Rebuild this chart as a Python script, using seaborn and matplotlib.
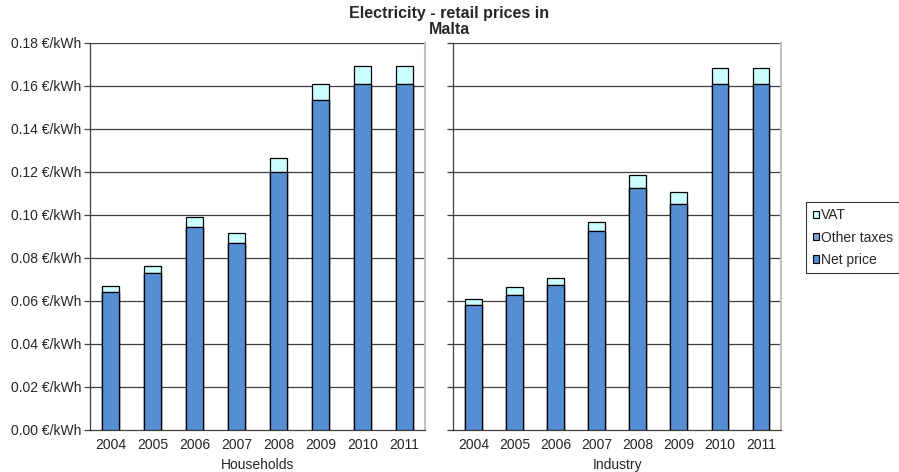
import numpy as np
import pandas as pd
import matplotlib
matplotlib.use("Agg")
import matplotlib.pyplot as plt
import seaborn as sns
from matplotlib.patches import Patch

years = ["2004", "2005", "2006", "2007", "2008", "2009", "2010", "2011"]
hh_net = [0.064, 0.0729, 0.0945, 0.0870, 0.1200, 0.1535, 0.1610, 0.1610]
hh_other = [0, 0, 0, 0, 0, 0, 0, 0]
hh_vat = [0.0030, 0.0034, 0.0045, 0.0046, 0.0065, 0.0072, 0.0084, 0.0084]
ind_net = [0.0580, 0.0628, 0.0673, 0.0924, 0.1125, 0.1051, 0.1607, 0.1607]
ind_other = [0, 0, 0, 0, 0, 0, 0, 0]
ind_vat = [0.0029, 0.0036, 0.0035, 0.0043, 0.0061, 0.0054, 0.0076, 0.0076]
yticks = [0.00, 0.02, 0.04, 0.06, 0.08, 0.10, 0.12, 0.14, 0.16, 0.18]

sns.set_theme(style="white")
plt.rcParams['font.family'] = ['Liberation Sans', 'DejaVu Sans']

C_VAT = "#CCFFFF"
C_OTHER = "#7F9FCF"
C_NET = "#558ED5"

fig = plt.figure(figsize=(8.99, 4.72), dpi=100)
ax1 = fig.add_axes([0.100, 0.089, 0.373, 0.820])
ax2 = fig.add_axes([0.504, 0.089, 0.365, 0.820])

def draw(ax, net, other, vat, label, show_y):
    df = pd.DataFrame({"year": years,
                       "net": net,
                       "other": np.array(net) + np.array(other),
                       "total": np.array(net) + np.array(other) + np.array(vat)})
    ax.set_axisbelow(True)
    for y in yticks[1:]:
        ax.axhline(y, color="#404040", lw=0.9, zorder=0)
    sns.barplot(data=df, x="year", y="total", color=C_VAT, width=0.4,
                edgecolor="black", linewidth=0.9, saturation=1, ax=ax, zorder=2)
    sns.barplot(data=df, x="year", y="other", color=C_OTHER, width=0.4,
                edgecolor="black", linewidth=0.9, saturation=1, ax=ax, zorder=3)
    sns.barplot(data=df, x="year", y="net", color=C_NET, width=0.4,
                edgecolor="black", linewidth=0.9, saturation=1, ax=ax, zorder=4)
    ax.set_ylim(0, 0.18)
    ax.set_xlim(-0.5, 7.5)
    ax.set_yticks(yticks)
    if show_y:
        ax.set_yticklabels([f"{v:.2f} €/kWh" for v in yticks], fontsize=10)
    else:
        ax.set_yticklabels([])
    ax.set_xlabel(label, fontsize=10, labelpad=4)
    ax.set_ylabel("")
    ax.tick_params(axis="x", which="major", length=0, labelsize=10, pad=6)
    ax.set_xticks(np.arange(-0.5, 8.0, 1.0), minor=True)
    ax.tick_params(axis="x", which="minor", length=4, color="#404040", width=0.9)
    ax.tick_params(axis="y", which="major", length=4, color="#404040", width=0.9,
                   left=True, pad=2)
    ax.spines["top"].set_visible(False)
    ax.spines["left"].set_color("#404040")
    ax.spines["bottom"].set_color("#404040")
    ax.spines["right"].set_color("#C0C0C0")
    ax.spines["right"].set_linewidth(1.5)
    for s in ["left", "bottom"]:
        ax.spines[s].set_linewidth(0.9)

draw(ax1, hh_net, hh_other, hh_vat, "Households", True)
draw(ax2, ind_net, ind_other, ind_vat, "Industry", False)

fig.suptitle("Electricity - retail prices in\nMalta", fontsize=11.5, fontweight="bold",
             x=0.5, y=0.988, linespacing=1.15)

handles = [Patch(facecolor=C_VAT, edgecolor="black", lw=0.8, label="VAT"),
           Patch(facecolor=C_OTHER, edgecolor="black", lw=0.8, label="Other taxes"),
           Patch(facecolor=C_NET, edgecolor="black", lw=0.8, label="Net price")]
leg = fig.legend(handles=handles, loc="upper left", bbox_to_anchor=(0.897, 0.572),
                 fontsize=10, frameon=True, fancybox=False, handlelength=0.45,
                 handleheight=0.45, handletextpad=0.15, borderpad=0.45,
                 labelspacing=0.6, borderaxespad=0)
leg.get_frame().set_edgecolor("black")
leg.get_frame().set_linewidth(0.8)

fig.savefig("out.png", dpi=100)
